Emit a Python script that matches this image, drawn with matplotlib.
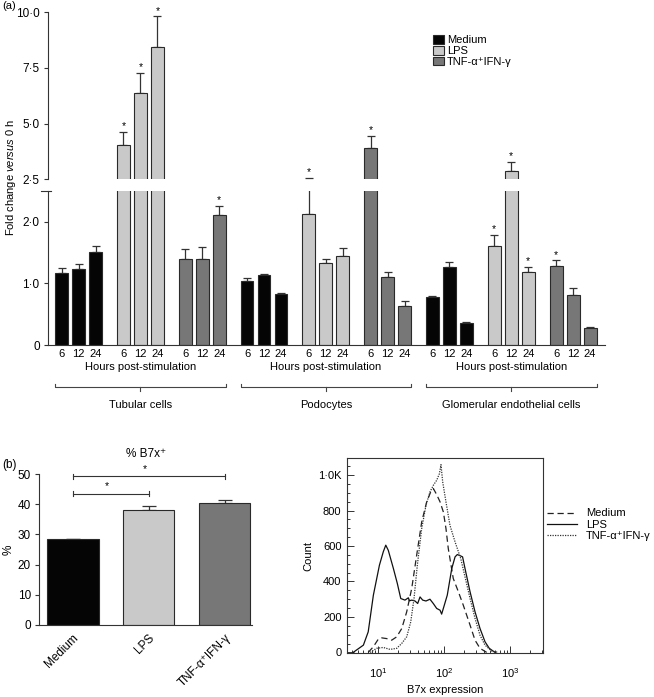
import numpy as np
import matplotlib
matplotlib.use("Agg")
from matplotlib import pyplot as plt
from matplotlib.patches import Patch
from matplotlib.ticker import MultipleLocator, LogLocator, NullFormatter

matplotlib.rcParams['font.family'] = ['Liberation Sans', 'DejaVu Sans']
matplotlib.rcParams['font.size'] = 8
matplotlib.rcParams['mathtext.fontset'] = 'custom'
matplotlib.rcParams['mathtext.rm'] = 'Liberation Sans'
matplotlib.rcParams['mathtext.it'] = 'Liberation Sans:italic'

### data (a): fold change versus 0 h
cell_types = ["Tubular cells", "Podocytes", "Glomerular endothelial cells"]
treatments = ["Medium", "LPS", "TNF-\u03b1\u207aIFN-\u03b3"]
hours = ["6", "12", "24"]

tubular_mean = [[1.16, 1.23, 1.50], [4.06, 6.37, 8.45], [1.39, 1.39, 2.11]]
tubular_err = [[0.08, 0.08, 0.10], [0.56, 0.91, 1.36], [0.17, 0.20, 0.14]]
podocyte_mean = [[1.03, 1.13, 0.83], [2.12, 1.33, 1.44], [3.89, 1.10, 0.63]]
podocyte_err = [[0.06, 0.02, 0.02], [0.43, 0.06, 0.13], [0.55, 0.09, 0.09]]
glomerular_mean = [[0.78, 1.27, 0.36], [1.60, 2.89, 1.19], [1.28, 0.81, 0.28]]
glomerular_err = [[0.02, 0.07, 0.02], [0.19, 0.40, 0.08], [0.09, 0.11, 0.01]]
# significant bars: (cell type, treatment, hour index)
signif_a = [(0, 1, 0), (0, 1, 1), (0, 1, 2), (0, 2, 2),
            (1, 1, 0), (1, 2, 0),
            (2, 1, 0), (2, 1, 1), (2, 1, 2), (2, 2, 0)]

### data (b): % B7x+ tubular cells
b_labels = ["Medium", "LPS", "TNF-\u03b1\u207aIFN-\u03b3"]
b_mean = [28.6, 38.0, 40.5]
b_err = [0.0, 1.3, 0.8]
b_signif = [(0, 2, 49.3), (0, 1, 43.5)]

### flow histogram (B7x expression vs count)
medium_x = [7.1, 8.5, 10.1, 11.4, 13.5, 16.1, 19.2, 22.9, 27.2, 32.4, 38.5, 45.9, 54.6, 62.8,
            69.0, 77.4, 87.1, 97.7, 107, 116, 138, 165, 196, 248, 295, 351, 443]
medium_y = [0, 32, 75, 82, 78, 69, 88, 135, 229, 361, 548, 736, 849, 905,
            924, 890, 849, 792, 699, 586, 417, 342, 266, 154, 69, 23, 0]
lps_x = [4.2, 6.0, 7.1, 8.5, 10.5, 12.0, 13.1, 14.3, 17.1, 19.6, 22.1, 25.6, 28.8, 29.9,
         32.4, 36.3, 39.9, 43.3, 47.5, 53.3, 61.2, 69.0, 77.4, 87.1, 92.0, 100, 112, 131,
         147, 159, 179, 191, 208, 248, 295, 351, 418, 485, 592]
lps_y = [0, 41, 116, 323, 492, 567, 605, 576, 473, 389, 304, 295, 308, 291,
         295, 290, 276, 313, 295, 290, 300, 275, 248, 238, 216, 261, 323, 473,
         539, 552, 544, 539, 473, 342, 229, 135, 60, 23, 0]
tnf_x = [7.6, 9.5, 12.0, 15.2, 19.2, 22.9, 27.2, 31.3, 35.1, 39.4, 45.9, 53.3, 61.2, 69.0,
         77.4, 85.1, 89.9, 95.5, 107, 123, 147, 159, 179, 208, 248, 295, 351, 418, 528, 665]
tnf_y = [0, 23, 28, 17, 23, 51, 88, 172, 304, 492, 699, 830, 905, 943,
         971, 1008, 1059, 961, 849, 717, 623, 586, 530, 426, 304, 192, 97, 41, 8, 0]

colors = ['#050505', '#c9c9c9', '#777777']
edge = '#2a2a2a'

fig = plt.figure(figsize=(6.54, 6.97), dpi=100)

### panel (a): broken axis
ax_up = fig.add_axes([0.0734, 0.7428, 0.8517, 0.2396])
ax_lo = fig.add_axes([0.0734, 0.5050, 0.8517, 0.2214])

means = [tubular_mean, podocyte_mean, glomerular_mean]
errs = [tubular_err, podocyte_err, glomerular_err]
group_pitch = 3.64
width = 0.76

xs_all = []
for c in range(3):
    for t in range(3):
        g = c * 3 + t
        xs = np.arange(3) + g * group_pitch
        xs_all.extend(xs)
        m = np.array(means[c][t])
        e = np.array(errs[c][t])
        for ax in (ax_up, ax_lo):
            ax.bar(xs, m, width=width, color=colors[t], edgecolor=edge, linewidth=0.8, zorder=2)
            ax.errorbar(xs, m, yerr=[np.zeros(3), e], fmt='none', ecolor='#333333',
                        elinewidth=0.9, capsize=2.6, capthick=0.9, zorder=1)

for (c, t, h) in signif_a:
    x = (c * 3 + t) * group_pitch + h
    top = means[c][t][h] + errs[c][t][h]
    ax = ax_up if top > 2.5 else ax_lo
    ax.annotate('*', xy=(x, top), xytext=(0, 0.5), textcoords='offset points',
                ha='center', va='bottom', fontsize=7.5, annotation_clip=False)

for ax in (ax_up, ax_lo):
    ax.set_xlim(-0.8, 32.0)
    ax.spines['top'].set_visible(False)
    ax.spines['right'].set_visible(False)
    for s in ax.spines.values():
        s.set_linewidth(0.8)
        s.set_color('#333333')
    ax.tick_params(axis='y', direction='out', length=3, width=0.8, color='#333333', pad=3,
                   labelsize=8.5)

ax_up.set_ylim(2.5, 10)
ax_up.spines['bottom'].set_visible(False)
ax_up.set_xticks([])
ax_up.set_yticks([2.5, 5.0, 7.5, 10.0])
ax_up.set_yticklabels(['2\u00b75', '5\u00b70', '7\u00b75', '10\u00b70'])

ax_lo.set_ylim(0, 2.5)
ax_lo.set_yticks([0, 1, 2])
ax_lo.set_yticklabels(['0', '1\u00b70', '2\u00b70'])
ax_lo.set_xticks(xs_all)
ax_lo.set_xticklabels(hours * 9)
ax_lo.tick_params(axis='x', length=0, pad=3, labelsize=8)
ax_lo.plot([-0.012, 0.006], [1, 1], transform=ax_lo.transAxes, color='#333333',
           lw=0.8, clip_on=False)

# group labels and brackets under each cell type
xtr = ax_lo.get_xaxis_transform()
for c, name in enumerate(cell_types):
    left = c * 3 * group_pitch - width / 2
    right = (c * 3 + 2) * group_pitch + 2 + width / 2
    mid = (c * 3 + 1) * group_pitch + 1
    ax_lo.text(mid, -0.142, 'Hours post-stimulation', transform=xtr, ha='center',
               va='center', fontsize=8)
    ax_lo.plot([left, left, right, right], [-0.255, -0.270, -0.270, -0.255],
               transform=xtr, color='#444444', lw=0.8, clip_on=False)
    ax_lo.plot([mid, mid], [-0.270, -0.296], transform=xtr, color='#444444',
               lw=0.8, clip_on=False)
    ax_lo.text(mid, -0.389, name, transform=xtr, ha='center', va='center', fontsize=8)

fig.text(0.017, 0.745, 'Fold change $\\it{versus}$ 0 h', rotation=90, ha='center',
         va='center', fontsize=8)
fig.text(0.003, 0.991, '(a)', ha='left', va='center', fontsize=8)

handles = [Patch(facecolor=colors[i], edgecolor=edge, linewidth=0.8) for i in range(3)]
fig.legend(handles, treatments, loc='upper left', bbox_to_anchor=(0.662, 0.950),
           frameon=False, fontsize=8, handlelength=1.0, handleheight=0.85,
           handletextpad=0.25, labelspacing=0.05, borderaxespad=0, borderpad=0)

### panel (b) left: % B7x+
axb = fig.add_axes([0.0601, 0.1033, 0.325, 0.2166])
bx = np.arange(3)
axb.bar(bx, b_mean, width=0.68, color=colors, edgecolor=edge, linewidth=0.8, zorder=2)
axb.errorbar(bx, b_mean, yerr=[np.zeros(3), b_err], fmt='none', ecolor='#333333',
             elinewidth=0.9, capsize=5, capthick=0.9, zorder=1)
for (i0, i1, yv) in b_signif:
    axb.plot([i0, i1], [yv, yv], color='#333333', lw=0.8, clip_on=False)
    for xv in (i0, i1):
        axb.plot([xv, xv], [yv - 0.8, yv + 0.8], color='#333333', lw=0.8, clip_on=False)
    axb.annotate('*', xy=((i0 + i1) / 2 - 0.05, yv), xytext=(0, 1.5), textcoords='offset points',
                 ha='center', va='bottom', fontsize=7.5, annotation_clip=False)
axb.set_xlim(-0.44, 2.36)
axb.set_ylim(0, 50)
axb.set_yticks([0, 10, 20, 30, 40, 50])
axb.set_xticks(bx)
axb.set_xticklabels(b_labels, rotation=45, ha='right', rotation_mode='anchor')
axb.spines['top'].set_visible(False)
axb.spines['right'].set_visible(False)
for s in axb.spines.values():
    s.set_linewidth(0.8)
    s.set_color('#333333')
axb.tick_params(axis='y', direction='out', length=3, width=0.8, color='#333333',
                labelsize=8.5, pad=3)
axb.tick_params(axis='x', length=0, pad=5, labelsize=8.5)
axb.set_ylabel('%', fontsize=8.5, labelpad=2.5)
axb.set_title('% B7x\u207a', fontsize=8.5, pad=12)
fig.text(0.003, 0.333, '(b)', ha='left', va='center', fontsize=8.5)

### panel (b) right: flow histogram
axh = fig.add_axes([0.5306, 0.0627, 0.2997, 0.2798])
axh.plot(medium_x, medium_y, color='#222222', lw=0.9, ls=(0, (5, 3)), label='Medium')
axh.plot(lps_x, lps_y, color='#111111', lw=0.9, ls='-', label='LPS')
axh.plot(tnf_x, tnf_y, color='#333333', lw=0.9, ls=(0, (1, 1)), label=treatments[2])
axh.set_xscale('log')
axh.set_xlim(10 ** 0.53, 10 ** 3.5)
axh.set_ylim(-5, 1095)
axh.set_xticks([10, 100, 1000])
axh.xaxis.set_minor_locator(LogLocator(base=10, subs=np.arange(2, 10)))
axh.xaxis.set_minor_formatter(NullFormatter())
axh.set_yticks([0, 200, 400, 600, 800, 1000])
axh.set_yticklabels(['0', '200', '400', '600', '800', '1\u00b70K'])
axh.yaxis.set_minor_locator(MultipleLocator(50))
for s in axh.spines.values():
    s.set_linewidth(0.8)
    s.set_color('#333333')
axh.tick_params(which='both', direction='in', color='#333333', width=0.7, labelsize=8)
axh.tick_params(which='major', length=5)
axh.tick_params(which='minor', length=2.5)
axh.tick_params(axis='x', which='major', pad=9)
axh.tick_params(axis='y', which='major', pad=4)
axh.set_xlabel('B7x expression', fontsize=8, labelpad=4)
axh.set_ylabel('Count', fontsize=8, labelpad=3)
axh.legend(loc='center left', bbox_to_anchor=(1.02, 0.66), frameon=False, fontsize=8,
           handlelength=2.7, handletextpad=0.8, labelspacing=0.1, borderaxespad=0,
           borderpad=0)

plt.savefig('out.png', dpi=100)
